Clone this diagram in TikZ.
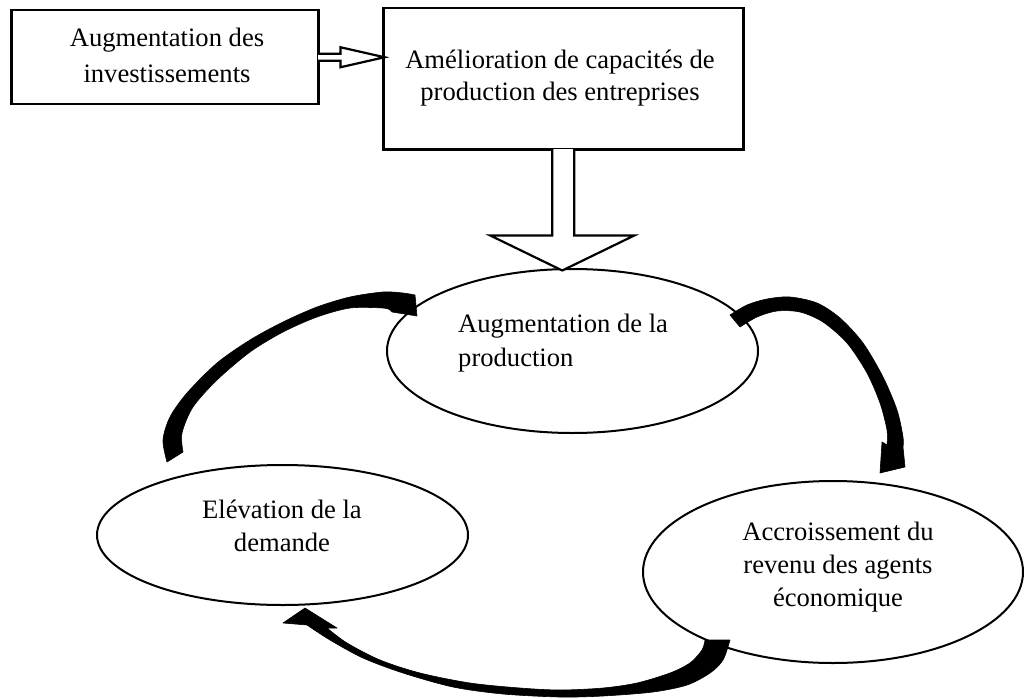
\documentclass[tikz,border=0pt]{standalone}
\usepackage{fontspec}
\setmainfont{Liberation Serif}
\usetikzlibrary{shapes.geometric,calc}
\begin{document}
\begin{tikzpicture}[x=1pt,y=-1pt,
  boxstyle/.style={draw,line width=2.5pt,rectangle,inner sep=0pt,anchor=north west},
  ellstyle/.style={draw,line width=2pt,ellipse,inner sep=0pt},
  txt/.style={font=\fontsize{26.6}{33}\selectfont,inner sep=0pt,anchor=base},
  txtl/.style={txt,anchor=base west},
  hollow/.style={draw,line width=2.2pt,fill=white,line join=miter},
  curvearrow/.style={fill=black,draw=black,line width=0.6pt,line join=round}]
\useasboundingbox (0,0) rectangle (1024,698);

% boxes
\node[boxstyle,minimum width=307pt,minimum height=94pt] (b1) at (10,9) {};
\node[boxstyle,minimum width=360pt,minimum height=141pt] (b2) at (382,7) {};
\node[txt] (t1a) at (167,47) {Augmentation des};
\node[txt] (t1b) at (167,82.5) {investissements};
\node[txt] (t2a) at (560,69) {Amélioration de capacités de};
\node[txt] (t2b) at (560,101) {production des entreprises};

% ellipses
\node[ellstyle,minimum width=371pt,minimum height=164pt] (ep) at (572.5,351) {};
\node[ellstyle,minimum width=371pt,minimum height=140pt] (el) at (282.5,535) {};
\node[ellstyle,minimum width=380pt,minimum height=182pt] (er) at (833,572) {};
\node[txtl] (tpa) at (458,332) {Augmentation de la};
\node[txtl] (tpb) at (458,366) {production};
\node[txt] (tla) at (282,518) {Elévation de la};
\node[txt] (tlb) at (282,551) {demande};
\node[txt] (tra) at (838,540) {Accroissement du};
\node[txt] (trb) at (838,573) {revenu des agents};
\node[txt] (trc) at (838,606) {économique};

% hollow arrows
\draw[hollow, shift={(b1.east)}] (-1.4,-3.5) -- (21,-3.5) -- (21,-10) -- (65,0) -- (21,10) -- (21,3.5) -- (-1.4,3.5);
\draw[hollow, shift={(b2.south)}] (-11,-1.4) -- (-11,85) -- (-73,85) -- (-1,120) -- (71,85) -- (11,85) -- (11,-1.4);

% curved arrow: demande -> production
\path[curvearrow] plot[smooth] coordinates {(167,462) (163,440) (170,417) (187,393) (217,363) (250,340) (283,322) (317,307) (350,297) (383,292) (403,293) (415,295)}
  -- (417,316) -- (392,312)
  -- plot[smooth] coordinates {(390,310) (383,308) (350,308) (317,317) (283,332) (250,352) (217,380) (193,407) (182,433) (183,452)} -- cycle;

% curved arrow: production -> revenu
\path[curvearrow] plot[smooth] coordinates {(730,315) (747,305) (767,299) (790,297) (817,303) (840,318) (863,343) (883,377) (897,410) (903,437) (903,447)}
  -- (905,467) -- (880,473) -- (882,442)
  -- plot[smooth] coordinates {(887,445) (887,430) (880,403) (867,373) (847,343) (823,322) (800,312) (777,311) (757,317) (740,327)} -- cycle;

% curved arrow: revenu -> demande
\path[curvearrow] plot[smooth] coordinates {(730,640) (723,660) (710,673) (687,685) (653,692) (603,696) (560,697) (503,694) (453,687) (403,673) (363,658) (330,640) (307,625)}
  -- (283,623) -- (305,608) -- (337,628)
  -- plot[smooth] coordinates {(327,628) (347,643) (380,660) (420,673) (470,683) (520,688) (560,690) (603,688) (637,683) (670,673) (690,663) (702,650) (705,640)} -- cycle;
\end{tikzpicture}
\end{document}
